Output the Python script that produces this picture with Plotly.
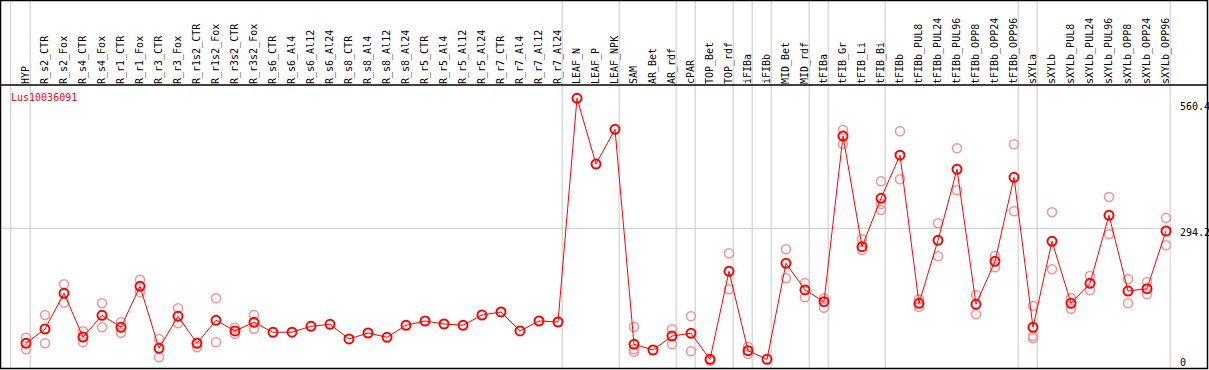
import plotly.graph_objects as go

gene = "Lus10036091"

categories = [
    "HYP", "R_s2_CTR", "R_s2_Fox", "R_s4_CTR", "R_s4_Fox", "R_r1_CTR", "R_r1_Fox",
    "R_r3_CTR", "R_r3_Fox", "R_r1s2_CTR", "R_r1s2_Fox", "R_r3s2_CTR", "R_r3s2_Fox",
    "R_s6_CTR", "R_s6_Al4", "R_s6_Al12", "R_s6_Al24", "R_s8_CTR", "R_s8_Al4",
    "R_s8_Al12", "R_s8_Al24", "R_r5_CTR", "R_r5_Al4", "R_r5_Al12", "R_r5_Al24",
    "R_r7_CTR", "R_r7_Al4", "R_r7_Al12", "R_r7_Al24", "LEAF_N", "LEAF_P", "LEAF_NPK",
    "SAM", "AR_Bet", "AR_rdf", "cPAR", "TOP_Bet", "TOP_rdf", "iFIBa", "iFIBb",
    "MID_Bet", "MID_rdf", "tFIBa", "tFIB_Gr", "tFIB_Li", "tFIB_Bi", "tFIBb",
    "tFIBb_PUL8", "tFIBb_PUL24", "tFIBb_PUL96", "tFIBb_OPP8", "tFIBb_OPP24", "tFIBb_OPP96",
    "sXYLa", "sXYLb", "sXYLb_PUL8", "sXYLb_PUL24", "sXYLb_PUL96", "sXYLb_OPP8",
    "sXYLb_OPP24", "sXYLb_OPP96",
]

mean_values = [
    49.9, 80.3, 156.2, 63.3, 109.4, 83.9, 171.0,
    39.3, 107.3, 49.9, 98.8, 76.1, 94.5,
    73.3, 73.6, 86.0, 90.3, 59.1, 71.8,
    62.7, 88.2, 97.3, 90.9, 88.2, 110.0,
    116.4, 76.1, 97.3, 95.2, 570.4, 430.8, 504.6,
    47.8, 35.7, 65.4, 71.2, 15.9, 202.9, 34.2, 15.9,
    219.9, 163.2, 138.3, 490.3, 255.2, 358.0, 449.5,
    134.9, 268.7, 419.6, 132.8, 224.1, 402.6,
    83.9, 266.6, 134.9, 177.4, 321.9, 161.0,
    165.9, 288.5,
]

rep_categories = [
    "HYP", "HYP", "R_s2_CTR", "R_s2_CTR", "R_s2_Fox", "R_s2_Fox", "R_s4_CTR", "R_s4_CTR",
    "R_s4_Fox", "R_s4_Fox", "R_r1_CTR", "R_r1_CTR", "R_r1_Fox", "R_r1_Fox",
    "R_r3_CTR", "R_r3_CTR", "R_r3_Fox", "R_r3_Fox", "R_r1s2_CTR", "R_r1s2_CTR",
    "R_r1s2_Fox", "R_r1s2_Fox", "R_r3s2_CTR", "R_r3s2_CTR", "R_r3s2_Fox", "R_r3s2_Fox",
    "SAM", "SAM", "SAM", "AR_rdf", "AR_rdf", "cPAR", "cPAR", "TOP_Bet",
    "TOP_rdf", "TOP_rdf", "iFIBa", "iFIBa", "MID_Bet", "MID_Bet", "MID_rdf", "MID_rdf",
    "tFIBa", "tFIBa", "tFIB_Gr", "tFIB_Gr", "tFIB_Li", "tFIB_Li",
    "tFIB_Bi", "tFIB_Bi", "tFIB_Bi", "tFIBb", "tFIBb",
    "tFIBb_PUL8", "tFIBb_PUL8", "tFIBb_PUL24", "tFIBb_PUL24", "tFIBb_PUL96", "tFIBb_PUL96",
    "tFIBb_OPP8", "tFIBb_OPP8", "tFIBb_OPP24", "tFIBb_OPP24", "tFIBb_OPP96", "tFIBb_OPP96",
    "sXYLa", "sXYLa", "sXYLa", "sXYLb", "sXYLb",
    "sXYLb_PUL8", "sXYLb_PUL8", "sXYLb_PUL24", "sXYLb_PUL24", "sXYLb_PUL96", "sXYLb_PUL96",
    "sXYLb_OPP8", "sXYLb_OPP8", "sXYLb_OPP24", "sXYLb_OPP24", "sXYLb_OPP96", "sXYLb_OPP96",
]

rep_values = [
    61.8, 37.2, 110.0, 49.9, 175.3, 136.2, 75.4, 52.1,
    134.9, 83.9, 94.5, 72.4, 185.0, 158.3,
    59.1, 20.2, 124.3, 92.4, 51.2, 41.4,
    145.5, 52.1, 83.1, 69.7, 110.0, 80.9,
    84.6, 37.2, 32.1, 79.7, 47.8, 107.3, 32.9, 13.0,
    241.1, 164.6, 42.7, 27.2, 249.6, 188.0, 178.0, 147.7,
    145.5, 125.6, 503.1, 473.3, 270.9, 248.1,
    394.1, 345.9, 333.1, 500.3, 398.3,
    143.4, 127.7, 304.9, 234.8, 464.2, 375.0,
    152.5, 111.5, 235.4, 211.4, 472.7, 330.4,
    129.2, 65.4, 60.5, 328.2, 207.1,
    145.5, 123.4, 192.9, 162.5, 360.7, 281.5,
    185.9, 134.9, 180.2, 154.0, 316.1, 258.1,
]

# group separators (after these category indices) and axis labels
group_ends = [0, 28, 31, 34, 35, 37, 38, 39, 41, 42, 45, 52, 53, 60]
y_labels = ["560.4", "294.2", "0"]
grid_value = 294.2

# ---------------------------------------------------------------------------
W, H = 1209, 370
idx = {c: i for i, c in enumerate(categories)}
xs = list(range(len(categories)))
rep_x = [idx[c] for c in rep_categories]

def px(x):
    return x / W

def py(y):
    return 1 - y / H

# plot area in pixels
PL, PR, PT, PB = 1, 1207, 85, 368
step = 19.0
x0px = 26.0
xmin = (PL - x0px) / step
xmax = (PR - x0px) / step
scale = 0.4707
zero_px = 366.8
ymax = (zero_px - PT) / scale
ymin = (zero_px - PB) / scale

red = "#ff0000"
pink = "rgb(240,150,150)"
grey = "rgb(200,200,200)"
mono = "DejaVu Sans Mono"

fig = go.Figure()
fig.add_trace(go.Scatter(
    x=rep_x, y=rep_values, mode="markers",
    marker=dict(symbol="circle-open", size=9, color=pink, line=dict(width=1.6, color=pink)),
    hoverinfo="skip", showlegend=False,
))
fig.add_trace(go.Scatter(
    x=xs, y=mean_values, mode="lines+markers",
    line=dict(color=red, width=1),
    marker=dict(symbol="circle-open", size=9, color=red, line=dict(width=2, color=red)),
    showlegend=False,
))

shapes = []
# vertical group separators (full height, through header)
sep_x = [xmin + (10.7 - PL) / step] + [g + 0.22 for g in group_ends]
for sx in sep_x:
    shapes.append(dict(type="line", xref="x", yref="paper", x0=sx, x1=sx,
                       y0=py(PB), y1=py(0), line=dict(color=grey, width=1), layer="below"))
# horizontal grid line
shapes.append(dict(type="line", xref="x", yref="y", x0=xmin, x1=group_ends[-1] + 0.22,
                   y0=grid_value, y1=grid_value, line=dict(color=grey, width=1), layer="below"))
# header separator
shapes.append(dict(type="line", xref="paper", yref="paper", x0=px(0), x1=px(1208),
                   y0=py(PT), y1=py(PT), line=dict(color="black", width=1.5)))
# outer border
shapes.append(dict(type="rect", xref="paper", yref="paper", x0=px(0.5), x1=px(1207.5),
                   y0=py(368.5), y1=py(0.5), line=dict(color="black", width=1.5)))

annotations = [
    dict(text=gene, xref="paper", yref="paper", x=px(9), y=py(97.5), xanchor="left",
         yanchor="middle", showarrow=False, font=dict(family=mono, size=10, color=red)),
]
for lab, ypix in zip(y_labels, [107, 232, 362]):
    annotations.append(dict(text=lab, xref="paper", yref="paper", x=px(1177.5), y=py(ypix),
                            xanchor="left", yanchor="middle", showarrow=False,
                            font=dict(family=mono, size=10, color="black")))

fig.update_layout(
    width=W, height=H,
    margin=dict(l=0, r=0, t=0, b=0),
    paper_bgcolor="white", plot_bgcolor="white",
    shapes=shapes, annotations=annotations,
    xaxis=dict(domain=[px(PL), px(PR)], range=[xmin, xmax], side="top",
               tickmode="array", tickvals=xs, ticktext=categories, tickangle=-90,
               tickfont=dict(family=mono, size=10, color="black"),
               showgrid=False, zeroline=False, showline=False, ticks="", fixedrange=True),
    yaxis=dict(domain=[py(PB), py(PT)], range=[ymin, ymax], showgrid=False,
               zeroline=False, showticklabels=False, showline=False, ticks="", fixedrange=True),
)

fig.write_html(
    "out.html",
    config={"displayModeBar": False},
    post_script="document.body.style.margin='0';document.body.style.overflow='hidden';",
)
